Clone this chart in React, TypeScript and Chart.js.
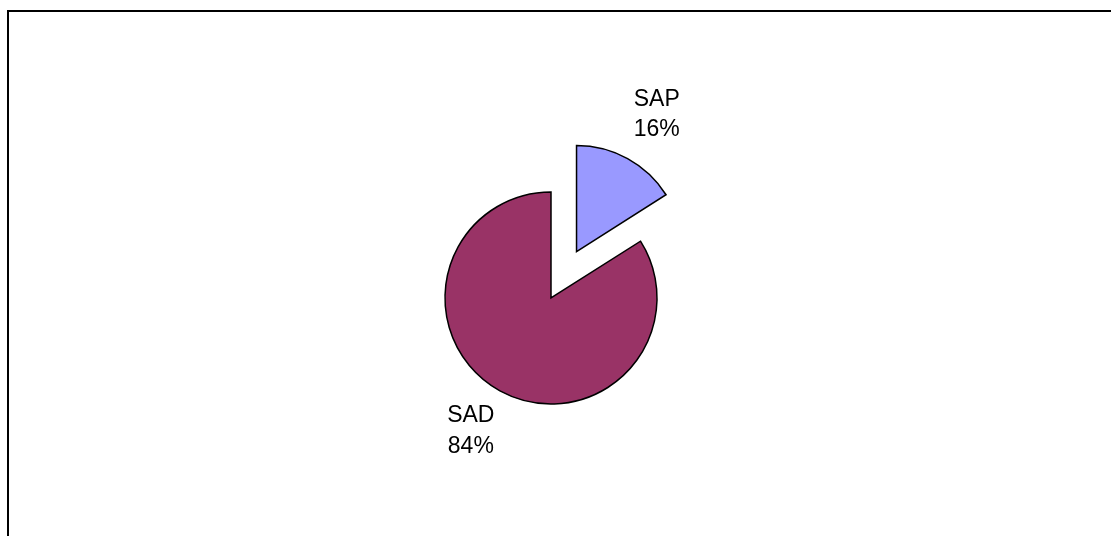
import React, { useEffect, useRef } from "react";
import { Chart, registerables } from "chart.js";

Chart.register(...registerables);

const categories = ["SAP", "SAD"];
const values = [16, 84];
const colors = ["#9999FF", "#993366"];
const explode = [53, 0];

const explodePlugin = {
  id: "explodeSlices",
  afterDatasetsUpdate(chart: any) {
    const meta = chart.getDatasetMeta(0);
    meta.data.forEach((arc: any, i: number) => {
      const d = explode[i] || 0;
      if (!d) return;
      const mid = (arc.startAngle + arc.endAngle) / 2;
      arc.x += Math.cos(mid) * d;
      arc.y += Math.sin(mid) * d;
    });
  },
};

const framePlugin = {
  id: "frame",
  beforeDraw(chart: any) {
    const ctx = chart.ctx;
    ctx.save();
    ctx.strokeStyle = "#000";
    ctx.lineWidth = 2;
    ctx.beginPath();
    ctx.moveTo(8, chart.height);
    ctx.lineTo(8, 11);
    ctx.lineTo(chart.width, 11);
    ctx.stroke();
    ctx.restore();
  },
};

const labelPlugin = {
  id: "pieLabels",
  afterDatasetsDraw(chart: any) {
    const ctx = chart.ctx;
    const meta = chart.getDatasetMeta(0);
    const data = chart.data.datasets[0].data as number[];
    const total = data.reduce((a, b) => a + b, 0);
    ctx.save();
    ctx.font = '23px "Liberation Sans", Arial, sans-serif';
    ctx.fillStyle = "#000";
    ctx.textAlign = "center";
    ctx.textBaseline = "middle";
    meta.data.forEach((arc: any, i: number) => {
      const mid = (arc.startAngle + arc.endAngle) / 2;
      const cx = Math.cos(mid);
      const cy = Math.sin(mid);
      const dist = arc.outerRadius + 48;
      const px = arc.x + cx * dist + Math.sign(cx) * 6;
      const py = arc.y + cy * dist - 2;
      const pct = Math.round((data[i] / total) * 100) + "%";
      ctx.fillText(chart.data.labels[i], px, py - 15.25);
      ctx.fillText(pct, px, py + 15.25);
    });
    ctx.restore();
  },
};

export default function App() {
  const ref = useRef<HTMLCanvasElement | null>(null);
  useEffect(() => {
    if (!ref.current) return;
    const chart = new Chart(ref.current, {
      type: "pie",
      data: {
        labels: categories,
        datasets: [
          {
            data: values,
            backgroundColor: colors,
            borderColor: "#000000",
            borderWidth: 1.5,
            borderJoinStyle: "miter",
            radius: 106,
          } as any,
        ],
      },
      options: {
        responsive: false,
        animation: false,
        layout: { padding: { left: 0, right: 9, top: 60, bottom: 0 } },
        plugins: {
          legend: { display: false },
          tooltip: { enabled: false },
        },
      },
      plugins: [framePlugin, explodePlugin, labelPlugin],
    });
    return () => chart.destroy();
  }, []);

  return (
    <div
      style={{
        position: "fixed",
        left: 0,
        top: 0,
        width: 1111,
        height: 536,
        background: "#fff",
      }}
    >
      <canvas
        ref={ref}
        width={1111}
        height={536}
        style={{ display: "block", width: 1111, height: 536 }}
      />
    </div>
  );
}
